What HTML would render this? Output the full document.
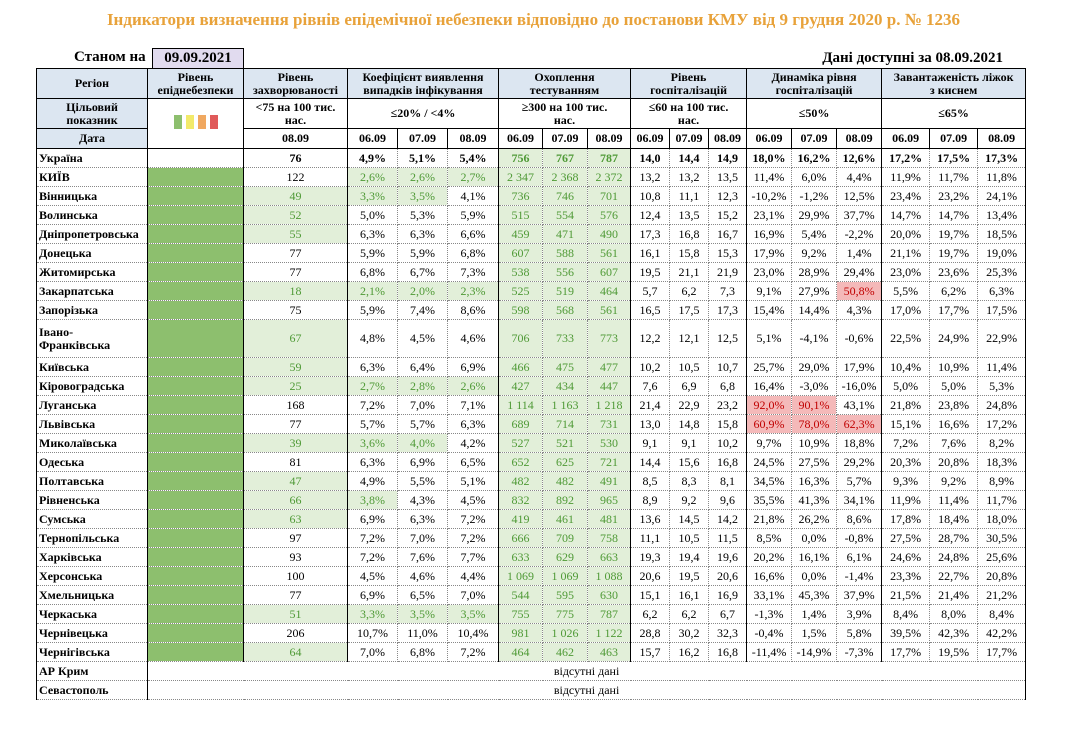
<!DOCTYPE html>
<html><head><meta charset="utf-8">
<style>
body{margin:0;width:1067px;height:730px;background:#fff;position:relative;font-family:"Liberation Serif",serif;overflow:hidden}
#title{position:absolute;left:0;width:1067px;top:10px;text-align:center;color:#e8a23a;font-weight:bold;font-size:17px}
#asof{position:absolute;left:74px;top:49px;font-weight:bold;font-size:15px}
#asofd{position:absolute;left:152px;top:48px;width:90px;height:19px;background:#e1dbef;border:1px solid #000;text-align:center;font-weight:bold;font-size:15px;line-height:19px}
#avail{position:absolute;right:64px;top:50px;font-weight:bold;font-size:15px}
table{position:absolute;left:36px;top:68px;border-collapse:collapse;table-layout:fixed;width:989px;font-size:12px}
td{border:1px dotted #888;padding:0 2px;text-align:center;white-space:nowrap;overflow:hidden;line-height:13px}
.h td{background:#dce6f1;font-weight:bold;border:1px solid #000;white-space:normal}
.t td{font-weight:bold;border:1px solid #000;white-space:normal}
.d td{font-weight:bold;border:1px solid #000}
td.r{text-align:left;font-weight:bold;border-left:1px solid #000;border-right:1px solid #000}
td.lv{background:#8dbf6e;border-right:1px solid #000}
td.g{background:#e2efd9;color:#4f9a36}
td.red{background:#f4b9b9;color:#c00000}
td.gb{border-right:1px solid #000}
.uk td{font-weight:bold}
</style></head><body>
<div id="title">Індикатори визначення рівнів епідемічної небезпеки відповідно до постанови КМУ від 9 грудня 2020 р. № 1236</div>
<div id="asof">Станом на</div>
<div id="asofd">09.09.2021</div>
<div id="avail">Дані доступні за 08.09.2021</div>
<table id="tbl">
<colgroup><col style="width:111px"><col style="width:96px"><col style="width:104px"><col style="width:50px"><col style="width:50px"><col style="width:51px"><col style="width:44px"><col style="width:45px"><col style="width:43px"><col style="width:39px"><col style="width:39px"><col style="width:38px"><col style="width:45px"><col style="width:45px"><col style="width:45px"><col style="width:48px"><col style="width:48px"><col style="width:48px"></colgroup>
<tr class="h" style="height:30px"><td>Регіон</td><td>Рівень епіднебезпеки</td><td>Рівень захворюваності</td><td colspan="3">Коефіцієнт виявлення<br>випадків інфікування</td><td colspan="3">Охоплення<br>тестуванням</td><td colspan="3">Рівень<br>госпіталізацій</td><td colspan="3">Динаміка рівня<br>госпіталізацій</td><td colspan="3">Завантаженість ліжок<br>з киснем</td></tr>
<tr class="t" style="height:30px"><td style="background:#dce6f1">Цільовий<br>показник</td><td rowspan="2"><span style="display:inline-block;width:8px;height:14px;background:#8dbf6e;margin:0 2px"></span><span style="display:inline-block;width:8px;height:14px;background:#f2ea6a;margin:0 2px"></span><span style="display:inline-block;width:8px;height:14px;background:#f0a860;margin:0 2px"></span><span style="display:inline-block;width:8px;height:14px;background:#e05a5a;margin:0 2px"></span></td><td>&lt;75 на 100 тис.<br>нас.</td><td colspan="3">≤20% / &lt;4%</td><td colspan="3">≥300 на 100 тис.<br>нас.</td><td colspan="3">≤60 на 100 тис.<br>нас.</td><td colspan="3">≤50%</td><td colspan="3">≤65%</td></tr>
<tr class="d" style="height:20px"><td style="background:#dce6f1">Дата</td><td>08.09</td><td>06.09</td><td>07.09</td><td>08.09</td><td>06.09</td><td>07.09</td><td>08.09</td><td>06.09</td><td>07.09</td><td>08.09</td><td>06.09</td><td>07.09</td><td>08.09</td><td>06.09</td><td>07.09</td><td>08.09</td></tr>
</table>
<script>
const regions=["Україна","КИЇВ","Вінницька","Волинська","Дніпропетровська","Донецька","Житомирська","Закарпатська","Запорізька","Івано-Франківська","Київська","Кіровоградська","Луганська","Львівська","Миколаївська","Одеська","Полтавська","Рівненська","Сумська","Тернопільська","Харківська","Херсонська","Хмельницька","Черкаська","Чернівецька","Чернігівська"];
const incidence=[76,122,49,52,55,77,77,18,75,67,59,25,168,77,39,81,47,66,63,97,93,100,77,51,206,64];
const coef=[[4.9,5.1,5.4],[2.6,2.6,2.7],[3.3,3.5,4.1],[5.0,5.3,5.9],[6.3,6.3,6.6],[5.9,5.9,6.8],[6.8,6.7,7.3],[2.1,2.0,2.3],[5.9,7.4,8.6],[4.8,4.5,4.6],[6.3,6.4,6.9],[2.7,2.8,2.6],[7.2,7.0,7.1],[5.7,5.7,6.3],[3.6,4.0,4.2],[6.3,6.9,6.5],[4.9,5.5,5.1],[3.8,4.3,4.5],[6.9,6.3,7.2],[7.2,7.0,7.2],[7.2,7.6,7.7],[4.5,4.6,4.4],[6.9,6.5,7.0],[3.3,3.5,3.5],[10.7,11.0,10.4],[7.0,6.8,7.2]];
const testing=[[756,767,787],[2347,2368,2372],[736,746,701],[515,554,576],[459,471,490],[607,588,561],[538,556,607],[525,519,464],[598,568,561],[706,733,773],[466,475,477],[427,434,447],[1114,1163,1218],[689,714,731],[527,521,530],[652,625,721],[482,482,491],[832,892,965],[419,461,481],[666,709,758],[633,629,663],[1069,1069,1088],[544,595,630],[755,775,787],[981,1026,1122],[464,462,463]];
const hosp=[[14.0,14.4,14.9],[13.2,13.2,13.5],[10.8,11.1,12.3],[12.4,13.5,15.2],[17.3,16.8,16.7],[16.1,15.8,15.3],[19.5,21.1,21.9],[5.7,6.2,7.3],[16.5,17.5,17.3],[12.2,12.1,12.5],[10.2,10.5,10.7],[7.6,6.9,6.8],[21.4,22.9,23.2],[13.0,14.8,15.8],[9.1,9.1,10.2],[14.4,15.6,16.8],[8.5,8.3,8.1],[8.9,9.2,9.6],[13.6,14.5,14.2],[11.1,10.5,11.5],[19.3,19.4,19.6],[20.6,19.5,20.6],[15.1,16.1,16.9],[6.2,6.2,6.7],[28.8,30.2,32.3],[15.7,16.2,16.8]];
const dyn=[[18.0,16.2,12.6],[11.4,6.0,4.4],[-10.2,-1.2,12.5],[23.1,29.9,37.7],[16.9,5.4,-2.2],[17.9,9.2,1.4],[23.0,28.9,29.4],[9.1,27.9,50.8],[15.4,14.4,4.3],[5.1,-4.1,-0.6],[25.7,29.0,17.9],[16.4,-3.0,-16.0],[92.0,90.1,43.1],[60.9,78.0,62.3],[9.7,10.9,18.8],[24.5,27.5,29.2],[34.5,16.3,5.7],[35.5,41.3,34.1],[21.8,26.2,8.6],[8.5,0.0,-0.8],[20.2,16.1,6.1],[16.6,0.0,-1.4],[33.1,45.3,37.9],[-1.3,1.4,3.9],[-0.4,1.5,5.8],[-11.4,-14.9,-7.3]];
const beds=[[17.2,17.5,17.3],[11.9,11.7,11.8],[23.4,23.2,24.1],[14.7,14.7,13.4],[20.0,19.7,18.5],[21.1,19.7,19.0],[23.0,23.6,25.3],[5.5,6.2,6.3],[17.0,17.7,17.5],[22.5,24.9,22.9],[10.4,10.9,11.4],[5.0,5.0,5.3],[21.8,23.8,24.8],[15.1,16.6,17.2],[7.2,7.6,8.2],[20.3,20.8,18.3],[9.3,9.2,8.9],[11.9,11.4,11.7],[17.8,18.4,18.0],[27.5,28.7,30.5],[24.6,24.8,25.6],[23.3,22.7,20.8],[21.5,21.4,21.2],[8.4,8.0,8.4],[39.5,42.3,42.2],[17.7,19.5,17.7]];
const noData=["АР Крим","Севастополь"];
const tbl=document.getElementById('tbl');
const f1=v=>v.toFixed(1).replace('.',',');
const fp=v=>f1(v)+'%';
const ft=v=>String(v).replace(/\B(?=(\d{3})+(?!\d))/g,' ');
function cell(tr,txt,cls,name){const td=document.createElement('td');td.textContent=txt;if(cls)td.className=cls;


tr.appendChild(td);return td;}
regions.forEach((r,i)=>{
 const tr=document.createElement('tr');
 
 
 tr.style.height=(r==="Івано-Франківська"?38:19)+'px';
 if(i===0)tr.className='uk';
 const rc=cell(tr,r==="Івано-Франківська"?"":r,'r','region-name');
 if(r==="Івано-Франківська")rc.innerHTML="Івано-<br>Франківська";
 cell(tr,'',i===0?'gb':'lv','epidemic-level');
 cell(tr,incidence[i],(incidence[i]<75?'g ':'')+'gb','incidence-value');
 coef[i].forEach((v,k)=>cell(tr,fp(v),(i>0&&v<=4?'g':'')+(k==2?' gb':''),'detection-rate'));
 testing[i].forEach((v,k)=>cell(tr,ft(v),(v>=300?'g':'')+(k==2?' gb':''),'testing-coverage'));
 hosp[i].forEach((v,k)=>cell(tr,f1(v),k==2?'gb':'','hospitalization-level'));
 dyn[i].forEach((v,k)=>cell(tr,fp(v),(v>50?'red':'')+(k==2?' gb':''),'hospitalization-dynamics'));
 beds[i].forEach((v,k)=>cell(tr,fp(v),k==2?'gb':'','oxygen-bed-load'));
 tbl.appendChild(tr);
});
noData.forEach((r,i)=>{
 const tr=document.createElement('tr');
 
 
 tr.style.height='19px';
 cell(tr,r,'r','region-name');
 const td=cell(tr,'відсутні дані','gb','no-data-cell');td.colSpan=17;
 tbl.appendChild(tr);
});
</script>
</body></html>
